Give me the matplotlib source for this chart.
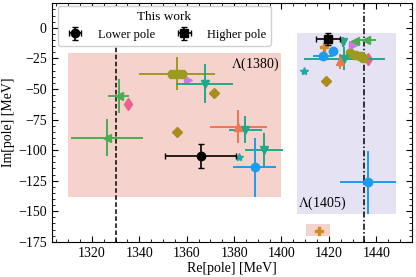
import numpy as np
import matplotlib
matplotlib.use("Agg")
import matplotlib.pyplot as plt
from matplotlib.patches import Rectangle

plt.rcParams['font.family'] = ['Liberation Serif', 'DejaVu Serif']
plt.rcParams['mathtext.fontset'] = 'stix'
plt.rcParams['font.size'] = 10

# This work
lower_re, lower_im, lower_dre, lower_dim = [1366.0], [-105.0], [15.0], [10.0]
higher_re, higher_im, higher_dre, higher_dim = [1419.7], [-9.0], [5.0], [4.8]

# Other determinations: (Re, Im, dRe, dIm)
green_re = [1331.3, 1326.4, 1431.0, 1435.5]
green_im = [-55.5, -89.9, -11.0, -10.0]
green_dre = [4.5, 15.0, 0.0, 4.5]
green_dim = [14.0, 15.0, 0.0, 0.0]

pink_re = [1335.3, 1436.4]
pink_im = [-62.0, -25.4]

olive_re = [1354.0, 1356.0, 1358.0, 1429.0, 1431.0, 1433.0, 1434.5]
olive_im = [-37.5, -37.5, -37.5, -21.0, -22.0, -23.0, -25.0]
olive_dre = [0.0, 16.0, 0.0, 0.0, 0.0, 0.0, 0.0]
olive_dim = [0.0, 13.6, 0.0, 0.0, 0.0, 0.0, 0.0]

gold_re = [1356.0, 1371.7, 1418.8]
gold_im = [-85.5, -53.3, -43.8]

violet_re = [1360.4, 1430.2]
violet_im = [-43.0, -13.7]

teal_re = [1367.6, 1384.8, 1392.8, 1425.8, 1426.5]
teal_im = [-45.7, -83.4, -100.3, -11.8, -25.4]
teal_dre = [12.0, 7.0, 8.0, 0.0, 17.0]
teal_dim = [15.7, 11.0, 14.6, 4.0, 9.3]

coral_re = [1381.7, 1424.6]
coral_im = [-81.0, -27.4]
coral_dre = [12.0, 0.0]
coral_dim = [13.4, 6.0]

blue_re = [1388.7, 1421.6, 1417.6, 1436.5]
blue_im = [-114.0, -18.6, -22.7, -126.2]
blue_dre = [9.0, 0.0, 4.2, 12.0]
blue_dim = [24.0, 0.0, 0.0, 25.7]

star_re = [1382.0, 1409.7]
star_im = [-105.7, -35.5]

plus_re = [1417.8, 1416.0]
plus_im = [-15.6, -166.0]

# thresholds and regions
pisigma_thr = 1330.0
kbarn_thr = 1435.0
box_1380 = (1310.0, 1400.0, -138.0, -21.0)
box_1405 = (1406.5, 1448.5, -152.0, -4.5)
box_small = (1410.5, 1420.5, -170.0, -160.5)

fig = plt.figure(figsize=(4.16, 2.77), dpi=100)
ax = fig.add_axes([0.124, 0.127, 0.866, 0.861])

for (x0, x1, y0, y1), c in [(box_1380, '#f6d2cd'), (box_1405, '#e4e2f3'), (box_small, '#f6d2cd')]:
    ax.add_patch(Rectangle((x0, y0), x1 - x0, y1 - y0, color=c, lw=0, zorder=0))

ax.axvline(pisigma_thr, color='k', ls=(0, (3, 1.6)), lw=1.1, zorder=1)
ax.axvline(kbarn_thr, color='k', ls=(0, (4, 1.5, 1, 1.5)), lw=1.1, zorder=1)

ms = 6
ax.errorbar(green_re, green_im, xerr=green_dre, yerr=green_dim, fmt='<', color='#4aad52', ms=ms, lw=1.4, zorder=3)
ax.plot(pink_re, pink_im, 'd', color='#ee5e8f', ms=ms, zorder=3)
ax.errorbar(olive_re, olive_im, xerr=olive_dre, yerr=olive_dim, fmt='8', color='#9d9a22', ms=ms, lw=1.4, zorder=3)
ax.plot(gold_re, gold_im, 'D', color='#a98b1e', ms=ms - 0.5, zorder=3)
ax.plot(violet_re, violet_im, '>', color='#c97ae0', ms=ms, zorder=3)
ax.errorbar(teal_re, teal_im, xerr=teal_dre, yerr=teal_dim, fmt='v', color='#21a88c', ms=ms, lw=1.4, zorder=3)
ax.errorbar(coral_re, coral_im, xerr=coral_dre, yerr=coral_dim, fmt='^', color='#ee7650', ms=ms, lw=1.4, zorder=3)
ax.errorbar(blue_re, blue_im, xerr=blue_dre, yerr=blue_dim, fmt='o', color='#1e9bf0', ms=ms, lw=1.4, zorder=3)
ax.plot(star_re, star_im, '*', color='#1ba9a9', ms=ms, zorder=3)
ax.plot(plus_re, plus_im, 'P', color='#d48a22', ms=ms, zorder=3)

lo = ax.errorbar(lower_re, lower_im, xerr=lower_dre, yerr=lower_dim, fmt='o', color='k',
                 ms=ms, lw=1.2, capsize=2, zorder=4, label='Lower pole')
hi = ax.errorbar(higher_re, higher_im, xerr=higher_dre, yerr=higher_dim, fmt='s', color='k',
                 ms=ms, lw=1.2, capsize=2, zorder=4, label='Higher pole')

ax.text(1399, -23, r'$\Lambda$(1380)', ha='right', va='top', fontsize=10)
ax.text(1407, -151, r'$\Lambda$(1405)', ha='left', va='bottom', fontsize=10)

ax.legend(handles=[lo, hi], title='This work', ncol=2, loc='lower left',
          bbox_to_anchor=(0.017, 0.822, 0.592, 0.153), mode='expand',
          fontsize=9, title_fontsize=9.5, framealpha=1, edgecolor='#d0d0d0',
          handletextpad=0.8, borderaxespad=0)

ax.set_xlim(1303, 1455)
ax.set_ylim(-175, 20)
ax.set_xticks(np.arange(1320, 1441, 20))
ax.set_yticks(np.arange(-175, 1, 25))
ax.xaxis.set_minor_locator(matplotlib.ticker.MultipleLocator(5))
ax.yaxis.set_minor_locator(matplotlib.ticker.MultipleLocator(5))
ax.tick_params(which='both', direction='in', top=True, right=True, labelsize=10)
ax.tick_params(which='major', length=4)
ax.tick_params(which='minor', length=2)
ax.set_xlabel('Re[pole] [MeV]', fontsize=10, labelpad=2)
ax.set_ylabel('Im[pole] [MeV]', fontsize=10, labelpad=2)

fig.savefig('out.png', dpi=100)
